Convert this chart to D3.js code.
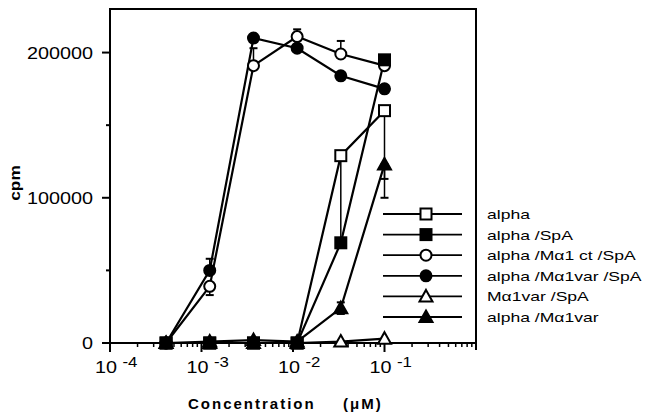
<!DOCTYPE html>
<html><head><meta charset="utf-8">
<script src="https://cdn.jsdelivr.net/npm/d3@7"></script>
<style>body{margin:0;background:#fff}svg{display:block}text{font-family:"Liberation Sans",Arial,sans-serif;fill:#000}</style>
</head><body><svg id="c" width="649" height="417"></svg>
<script>
const conc = [0.00041, 0.00123, 0.0037, 0.0111, 0.0333, 0.1];
const seriesNames = ["alpha", "alpha /SpA", "alpha /M\u03b11 ct /SpA", "alpha /M\u03b11var /SpA", "M\u03b11var /SpA", "alpha /M\u03b11var"];
const alphaVals      = [0, 0, 0, 0, 129000, 160000];
const alphaSpAVals   = [0, 0, 0, 0, 69000, 195000];
const ctSpAVals      = [0, 39000, 191000, 211000, 199000, 191000];
const varSpAVals     = [0, 50000, 210000, 203000, 184000, 175000];
const mVarSpAVals    = [0, 0, 0, 0, 1000, 3000];
const alphaVarVals   = [0, 1000, 2000, 1000, 24000, 123000];
// error bars: [point index, low, high]
const alphaErr    = [[4, 70000, 129000], [5, 113000, 160000]];
const ctSpAErr    = [[1, 33000, 39000], [2, 191000, 203000], [3, 211000, 216000], [4, 199000, 208000]];
const varSpAErr   = [[1, 50000, 58000]];
const alphaVarErr = [[4, 20000, 28000], [5, 100000, 123000]];
const yTicks = [0, 100000, 200000];
const yMinor = [50000, 150000];
const xTickExp = [-4, -3, -2, -1];

const series = [
  {name: seriesNames[4], v: mVarSpAVals, err: [], shape: "tri", fill: false},
  {name: seriesNames[0], v: alphaVals, err: alphaErr, shape: "sq", fill: false},
  {name: seriesNames[2], v: ctSpAVals, err: ctSpAErr, shape: "circ", fill: false},
  {name: seriesNames[5], v: alphaVarVals, err: alphaVarErr, shape: "tri", fill: true},
  {name: seriesNames[3], v: varSpAVals, err: varSpAErr, shape: "circ", fill: true},
  {name: seriesNames[1], v: alphaSpAVals, err: [], shape: "sq", fill: true}
];
const legendOrder = [1, 5, 2, 4, 0, 3];

const svg = d3.select("#c");
const x = d3.scaleLog().domain([1e-4, 1]).range([110, 476]);
const y = d3.scaleLinear().domain([0, 230000]).range([343, 9]);

function marker(g, shape, fill, cx, cy) {
  const f = fill ? "#000" : "#fff";
  if (shape === "sq") {
    g.append("rect").attr("x", cx - 5.5).attr("y", cy - 5.5).attr("width", 11).attr("height", 11)
      .attr("fill", f).attr("stroke", "#000").attr("stroke-width", 2);
  } else if (shape === "circ") {
    g.append("circle").attr("cx", cx).attr("cy", cy).attr("r", 5.5)
      .attr("fill", f).attr("stroke", "#000").attr("stroke-width", 2);
  } else {
    g.append("path").attr("d", `M${cx},${cy - 6.5}L${cx + 6.5},${cy + 5}L${cx - 6.5},${cy + 5}Z`)
      .attr("fill", f).attr("stroke", "#000").attr("stroke-width", 2).attr("stroke-linejoin", "miter");
  }
}

// frame
svg.append("path").attr("d", `M${x(1)},${y(0) + 7}V9H110V${y(0)}H${x(1)}`)
  .attr("fill", "none").attr("stroke", "#000").attr("stroke-width", 2);

// y ticks
yTicks.forEach(t => {
  svg.append("line").attr("x1", 102).attr("x2", 110).attr("y1", y(t)).attr("y2", y(t)).attr("stroke", "#000").attr("stroke-width", 2);
  svg.append("text").attr("transform", `translate(93,${y(t) + 6}) scale(1.2,1)`).attr("text-anchor", "end")
    .attr("font-size", 16.5).text(t);
});
yMinor.forEach(t => {
  svg.append("line").attr("x1", 106).attr("x2", 110).attr("y1", y(t)).attr("y2", y(t)).attr("stroke", "#000").attr("stroke-width", 2);
});
// x ticks
for (let e = -4; e < 0; e++) {
  svg.append("line").attr("x1", x(10 ** e)).attr("x2", x(10 ** e)).attr("y1", y(0)).attr("y2", y(0) + 9).attr("stroke", "#000").attr("stroke-width", 2);
  for (let k = 2; k <= 9; k++) {
    const xv = x(k * 10 ** e);
    svg.append("line").attr("x1", xv).attr("x2", xv).attr("y1", y(0)).attr("y2", y(0) + 4).attr("stroke", "#000").attr("stroke-width", 1.5);
  }
}
xTickExp.forEach(e => {
  const t = svg.append("text").attr("transform", `translate(${x(10 ** e) - 15},373) scale(1.2,1)`).attr("font-size", 16.5);
  t.append("tspan").text("10 ");
  t.append("tspan").attr("dy", -6).attr("font-size", 14).text(String(e));
});

// axis titles
svg.append("text").attr("transform", "translate(20,183) rotate(-90) scale(1.15,1)").attr("text-anchor", "middle")
  .attr("font-size", 15).attr("font-weight", "bold").text("cpm");
svg.append("text").attr("transform", "translate(188,409)").attr("font-size", 15).attr("font-weight", "bold")
  .attr("letter-spacing", 2).text("Concentration");
svg.append("text").attr("transform", "translate(343,409)").attr("font-size", 15).attr("font-weight", "bold")
  .attr("letter-spacing", 2).text("(\u03bcM)");

// data lines
const line = d3.line().x((d, i) => x(conc[i])).y(d => y(d));
series.forEach(s => {
  svg.append("path").attr("d", line(s.v)).attr("fill", "none").attr("stroke", "#000").attr("stroke-width", 2.2);
});
// error bars
series.forEach(s => {
  s.err.forEach(([i, lo, hi]) => {
    const cx = x(conc[i]);
    svg.append("line").attr("x1", cx).attr("x2", cx).attr("y1", y(lo)).attr("y2", y(hi)).attr("stroke", "#000").attr("stroke-width", 1.5);
    [lo, hi].forEach(v => svg.append("line").attr("x1", cx - 4).attr("x2", cx + 4).attr("y1", y(v)).attr("y2", y(v)).attr("stroke", "#000").attr("stroke-width", 2));
  });
});
// markers
series.forEach(s => {
  const g = svg.append("g");
  s.v.forEach((v, i) => marker(g, s.shape, s.fill, x(conc[i]), y(v)));
});

// legend
legendOrder.forEach((si, r) => {
  const s = series[si];
  const ly = 214 + r * 20.6;
  svg.append("line").attr("x1", 383).attr("x2", 462).attr("y1", ly).attr("y2", ly).attr("stroke", "#000").attr("stroke-width", 1.8);
  marker(svg.append("g"), s.shape, s.fill, 426, ly);
  svg.append("text").attr("transform", `translate(487,${ly + 5}) scale(1.35,1)`).attr("font-size", 13).text(s.name);
});
</script></body></html>
